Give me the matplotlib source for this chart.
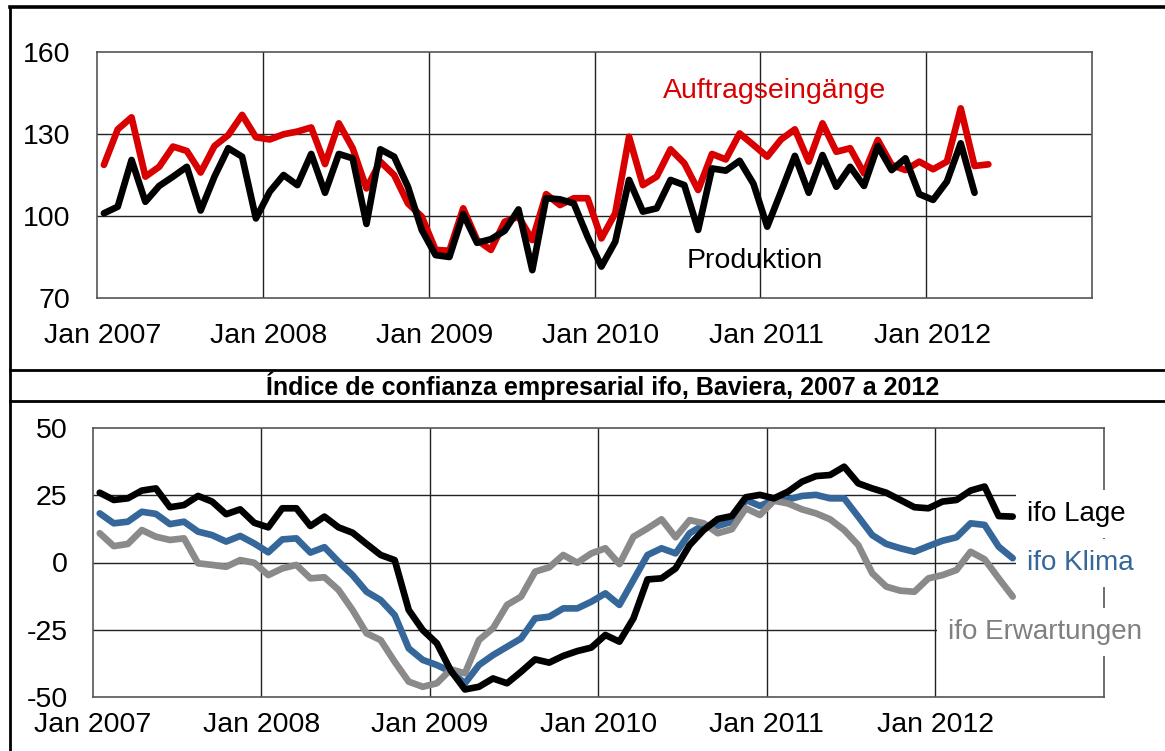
import matplotlib
matplotlib.use("Agg")
import matplotlib.pyplot as plt
from matplotlib.lines import Line2D
import matplotlib.transforms as mtransforms
import numpy as np

plt.rcParams['font.family'] = ['Liberation Sans', 'DejaVu Sans']
plt.rcParams['axes.unicode_minus'] = False

# ---------------- data ----------------
year_labels = ["Jan 2007", "Jan 2008", "Jan 2009", "Jan 2010", "Jan 2011", "Jan 2012"]

auftragseingaenge = [118.7, 131.7, 136.1, 114.4, 118.0, 125.4, 123.8, 115.9, 125.6, 129.6, 137.0, 128.8,
                     128.0, 129.9, 130.9, 132.4, 119.0, 133.9, 124.8, 110.1, 119.9, 115.0, 104.6, 99.8,
                     87.6, 87.3, 102.8, 91.2, 87.6, 97.9, 99.8, 91.2, 108.0, 104.0, 106.5, 106.5,
                     91.8, 101.0, 129.0, 111.3, 114.4, 124.4, 119.3, 109.5, 122.7, 120.7, 130.2, 126.0,
                     121.7, 128.0, 131.7, 119.9, 133.9, 123.5, 124.8, 115.6, 127.8, 118.7, 116.8, 119.9,
                     117.1, 119.9, 139.4, 118.3, 118.9]

produktion = [101.0, 103.4, 120.5, 105.2, 111.0, 114.4, 118.0, 102.0, 114.4, 124.8, 121.7, 99.1,
              108.9, 115.0, 111.3, 122.7, 108.5, 122.7, 121.1, 97.1, 124.4, 121.7, 110.7, 94.9,
              85.7, 85.0, 100.7, 90.2, 91.5, 94.6, 102.4, 80.2, 106.5, 106.1, 104.6, 92.4,
              81.5, 90.6, 113.2, 101.6, 102.8, 113.2, 111.3, 94.9, 117.4, 116.6, 120.2, 111.8,
              96.1, 108.9, 122.0, 108.5, 122.3, 110.7, 118.0, 111.0, 125.6, 116.8, 121.1, 108.0,
              105.9, 112.6, 126.6, 108.5]

ifo_lage = [26.0, 23.3, 23.9, 26.8, 27.6, 20.6, 21.4, 24.8, 22.7, 18.0, 19.8, 14.8,
            13.1, 20.2, 20.2, 13.6, 17.1, 13.1, 11.1, 6.9, 2.8, 0.9, -17.7, -25.2,
            -30.1, -40.3, -47.3, -46.3, -43.2, -45.0, -40.7, -36.1, -37.3, -34.8, -33.0, -31.7,
            -27.0, -29.5, -20.8, -6.3, -5.9, -2.2, 6.5, 12.1, 16.2, 17.3, 24.3, 25.2,
            23.9, 26.4, 30.1, 32.2, 32.6, 35.7, 29.5, 27.6, 26.0, 23.3, 20.6, 20.2,
            22.7, 23.3, 26.8, 28.3, 17.3, 17.1]

ifo_klima = [18.3, 14.6, 15.2, 18.9, 18.1, 14.3, 15.2, 11.5, 10.2, 7.8, 9.9, 7.1,
             3.8, 8.6, 9.0, 3.7, 5.7, 0.3, -4.7, -10.9, -14.0, -19.6, -32.0, -36.3,
             -38.2, -40.7, -45.0, -38.2, -34.5, -31.4, -28.3, -20.8, -20.2, -17.1, -17.1, -14.6,
             -11.5, -15.8, -6.5, 2.8, 5.3, 3.4, 10.9, 14.0, 13.6, 15.2, 23.3, 21.1,
             23.3, 23.5, 24.8, 25.2, 23.9, 23.9, 17.1, 10.2, 6.9, 5.3, 4.0, 6.1,
             8.1, 9.4, 14.6, 14.0, 5.9, 1.6]

ifo_erwartungen = [10.9, 6.1, 6.9, 12.1, 9.6, 8.4, 9.0, -0.3, -0.9, -1.6, 0.9, -0.1,
                   -4.7, -2.2, -0.9, -5.9, -5.5, -10.2, -17.7, -26.4, -28.9, -37.0, -44.4, -46.3,
                   -45.0, -39.8, -41.3, -28.9, -24.5, -15.8, -12.7, -3.4, -1.8, 2.8, -0.1, 3.4,
                   5.3, -0.6, 9.6, 12.7, 16.1, 9.4, 15.8, 14.6, 10.9, 12.4, 20.2, 17.7,
                   23.0, 22.0, 19.8, 18.3, 16.1, 12.1, 6.5, -4.0, -9.0, -10.5, -10.9, -5.9,
                   -4.7, -2.8, 4.0, 1.2, -5.9, -12.7]

title_bottom = "Índice de confianza empresarial ifo, Baviera, 2007 a 2012"

RED = "#d80000"
BLUE = "#35679a"
GRAY = "#8a8a8a"
GRIDC = "#222222"

W, H = 1165, 751
fig = plt.figure(figsize=(W / 100, H / 100), dpi=100)
fig.patch.set_facecolor("white")


def month_pos(n):
    # categories are months; each point sits in the middle of its month slot
    return np.arange(n) + 0.5


def style_axes(ax, yticks, ylim, ylabel_pad, xlabel_pad):
    ax.set_xlim(0, 72)
    ax.set_ylim(*ylim)
    ax.set_yticks(yticks)
    ax.set_xticks(np.arange(0, 72, 12))
    ax.set_xticklabels(year_labels)
    ax.tick_params(axis="both", length=0, labelsize=20.5, colors="black")
    ax.tick_params(axis="y", pad=ylabel_pad)
    ax.tick_params(axis="x", pad=xlabel_pad)
    for yv in yticks[1:-1]:
        ax.axhline(yv, color=GRIDC, lw=1.0, zorder=1)
    for xv in range(12, 72, 12):
        ax.axvline(xv, color=GRIDC, lw=1.0, zorder=1)
    for s in ax.spines.values():
        s.set_color("#555555")
        s.set_linewidth(1.2)


LW = 4.8

# ---------------- top panel ----------------
ax1 = fig.add_axes([97 / W, 1 - 298 / H, (1092 - 97) / W, (298 - 52) / H])
style_axes(ax1, [70, 100, 130, 160], (70, 160), ylabel_pad=19, xlabel_pad=18)
shift = mtransforms.ScaledTranslation(6 / 100, 0, fig.dpi_scale_trans)
for lbl in ax1.get_xticklabels():
    lbl.set_transform(lbl.get_transform() + shift)
ax1.plot(month_pos(len(auftragseingaenge)), auftragseingaenge, color=RED, lw=LW,
         solid_joinstyle="round", solid_capstyle="round", zorder=3)
ax1.plot(month_pos(len(produktion)), produktion, color="black", lw=LW,
         solid_joinstyle="round", solid_capstyle="round", zorder=4)
ax1.text(49.0, 145.7, "Auftragseingänge", color=RED, fontsize=20.5, ha="center", va="center")
ax1.text(47.6, 83.5, "Produktion", color="black", fontsize=20.5, ha="center", va="center")

# ---------------- bottom panel ----------------
ax2 = fig.add_axes([92.7 / W, 1 - 696.7 / H, (1104 - 92.7) / W, (696.7 - 428.3) / H])
style_axes(ax2, [-50, -25, 0, 25, 50], (-50, 50), ylabel_pad=18, xlabel_pad=11)
ax2.plot(month_pos(len(ifo_klima)), ifo_klima, color=BLUE, lw=LW,
         solid_joinstyle="round", solid_capstyle="round", zorder=3)
ax2.plot(month_pos(len(ifo_erwartungen)), ifo_erwartungen, color=GRAY, lw=LW,
         solid_joinstyle="round", solid_capstyle="round", zorder=3.1)
ax2.plot(month_pos(len(ifo_lage)), ifo_lage, color="black", lw=LW,
         solid_joinstyle="round", solid_capstyle="round", zorder=3.2)

box = dict(facecolor="white", edgecolor="none", pad=8)
ax2.text(66.5, 18.1, "ifo Lage", color="black", fontsize=20, ha="left", va="center",
         bbox=box, zorder=6)
ax2.text(66.5, -0.2, "ifo Klima", color=BLUE, fontsize=20, ha="left", va="center",
         bbox=box, zorder=6)
ax2.text(60.9, -25.9, "ifo Erwartungen", color="#808080", fontsize=20, ha="left", va="center",
         bbox=box, zorder=6)

# ---------------- frame & title ----------------
def fline(x0, y0, x1, y1, lw):
    fig.add_artist(Line2D([x0 / W, x1 / W], [1 - y0 / H, 1 - y1 / H],
                          transform=fig.transFigure, color="black", lw=lw))

fline(10, 6.5, W, 6.5, 2.6)
fline(10, 6.5, 10, H, 2.0)
fline(10, 370, W, 370, 2.0)
fline(10, 401.5, W, 401.5, 2.0)

fig.text(603 / W, 1 - 386 / H, title_bottom, ha="center", va="center",
         fontsize=18, fontweight="bold")

fig.savefig("out.png", dpi=100, facecolor="white")
